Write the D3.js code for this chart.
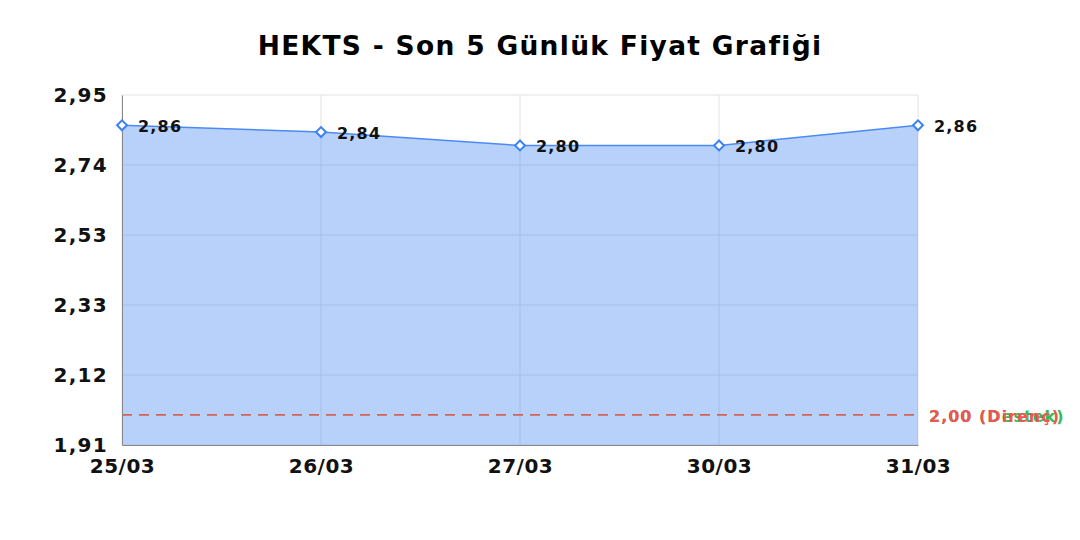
<!DOCTYPE html>
<html lang="tr">
<head>
    <meta charset="UTF-8">
    <title>HEKTS - Son 5 Günlük Fiyat Grafiği</title>
    <script src="https://d3js.org/d3.v7.min.js"></script>
    <style>
        body {
            margin: 0;
            background: #fff;
            font-family: "DejaVu Sans", sans-serif;
        }
    </style>
</head>
<body>
  <div id="chart"></div>

    <script>
        const dates = ["25/03", "26/03", "27/03", "30/03", "31/03"];
        const prices = [2.86, 2.84, 2.80, 2.80, 2.86];
        const yTicks = [1.91, 2.118, 2.326, 2.534, 2.742, 2.95];
        const supportLevel = 2.00;
        const resistanceLevel = 2.00;

        const W = 1080, H = 540;
        const margin = { top: 95, right: 162, bottom: 95, left: 122 };
        const width = W - margin.left - margin.right;
        const height = H - margin.top - margin.bottom;

        const svg = d3.select("#chart").append("svg")
            .attr("width", W)
            .attr("height", H);

        svg.append("text")
            .attr("x", W / 2)
            .attr("y", 55)
            .attr("text-anchor", "middle")
            .style("font-size", "26.5px")
            .style("font-weight", "bold")
            .style("letter-spacing", "1.3px")
            .text("HEKTS - Son 5 Günlük Fiyat Grafiği");

        const g = svg.append("g")
            .attr("transform", `translate(${margin.left},${margin.top})`);

        const x = d3.scalePoint().domain(dates).range([0, width]);
        const y = d3.scaleLinear().domain([1.91, 2.95]).range([height, 0]);
        const fmt = v => d3.format(".2f")(v).replace(".", ",");

        // grid
        g.append("g")
            .selectAll("line")
            .data(yTicks)
            .enter().append("line")
            .attr("x1", 0).attr("x2", width)
            .attr("y1", d => y(d)).attr("y2", d => y(d))
            .attr("stroke", "#e2e2e2");

        g.append("g")
            .selectAll("line")
            .data(dates)
            .enter().append("line")
            .attr("x1", d => x(d)).attr("x2", d => x(d))
            .attr("y1", 0).attr("y2", height)
            .attr("stroke", "#e2e2e2");

        const data = dates.map((d, i) => ({ date: d, price: prices[i] }));

        // area
        g.append("path")
            .datum(data)
            .attr("fill", "rgba(66,133,244,0.38)")
            .attr("d", d3.area()
                .x(d => x(d.date))
                .y0(height)
                .y1(d => y(d.price)));

        g.append("path")
            .datum(data)
            .attr("fill", "none")
            .attr("stroke", "#4a8af4")
            .attr("stroke-width", 1.5)
            .attr("d", d3.line()
                .x(d => x(d.date))
                .y(d => y(d.price)));

        // support / resistance
        const levels = [
            { value: supportLevel, label: "Destek", color: "#2fbf55" },
            { value: resistanceLevel, label: "Direnç", color: "#ee5555" }
        ];

        levels.forEach(l => {
            g.append("line")
                .attr("x1", 0).attr("x2", width)
                .attr("y1", y(l.value)).attr("y2", y(l.value))
                .attr("stroke", l.color)
                .attr("stroke-width", 1.5)
                .attr("stroke-dasharray", "10,7");

            g.append("text")
                .attr("x", width + 11)
                .attr("y", y(l.value) + 2)
                .attr("dy", "0.36em")
                .attr("fill", l.color)
                .style("font-size", "16px")
                .style("font-weight", "bold")
                .style("letter-spacing", "1px")
                .text(`${fmt(l.value)} (${l.label})`);
        });

        // axes
        const xAxis = g.append("g")
            .attr("transform", `translate(0,${height})`)
            .call(d3.axisBottom(x).tickSize(0).tickPadding(14));
        xAxis.select(".domain").attr("stroke", "#888");
        xAxis.selectAll(".tick text").style("letter-spacing", "0.5px");

        const yAxis = g.append("g")
            .call(d3.axisLeft(y).tickValues(yTicks).tickSize(0).tickPadding(14).tickFormat(fmt));
        yAxis.select(".domain").attr("stroke", "#888");
        yAxis.selectAll(".tick text").style("letter-spacing", "1.3px");

        g.selectAll(".tick text")
            .style("font-family", "DejaVu Sans, sans-serif")
            .style("font-size", "20px")
            .style("font-weight", "bold")
            .attr("fill", "#111");

        // markers
        g.selectAll(".pt")
            .data(data)
            .enter().append("path")
            .attr("class", "pt")
            .attr("transform", d => `translate(${x(d.date)},${y(d.price)}) rotate(45)`)
            .attr("d", "M-3.5,-3.5H3.5V3.5H-3.5Z")
            .attr("fill", "#fff")
            .attr("stroke", "#3b82f0")
            .attr("stroke-width", 2);

        g.selectAll(".lbl")
            .data(data)
            .enter().append("text")
            .attr("class", "lbl")
            .attr("x", d => x(d.date) + 16)
            .attr("y", d => y(d.price) + 1)
            .attr("dy", "0.36em")
            .style("font-size", "16px")
            .style("font-weight", "bold")
            .style("letter-spacing", "1.2px")
            .attr("fill", "#111")
            .text(d => fmt(d.price));
    </script>
</body>
</html>
